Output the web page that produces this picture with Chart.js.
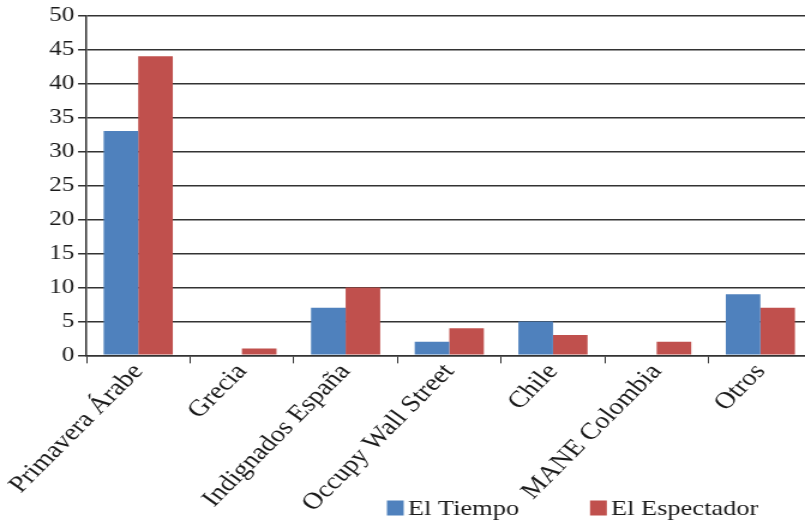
<!DOCTYPE html>
<html>
<head>
<meta charset="utf-8">
<script src="https://cdn.jsdelivr.net/npm/chart.js@4/dist/chart.umd.min.js"></script>
<style>
  html, body { margin: 0; padding: 0; background: #fff; overflow: hidden; }
  /* the original picture is stretched sideways, so the chart is too */
  #wrap { width: 677px; height: 521px; transform: scaleX(1.1997); transform-origin: 0 0; }
</style>
</head>
<body>
<div id="wrap"><canvas id="myChart"></canvas></div>
<script>
"use strict";

const categories = ['Primavera Árabe', 'Grecia', 'Indignados España',
    'Occupy Wall Street', 'Chile', 'MANE Colombia', 'Otros'];
const elTiempo = [33, 0, 7, 2, 5, 0, 9];
const elEspectador = [44, 1, 10, 4, 3, 2, 7];
const seriesNames = ['El Tiempo', 'El Espectador'];

const serif = "'Liberation Serif', 'Times New Roman', serif";
const fontSize = 21;

// legend drawn by hand, it sits beside the rotated labels like in the original
const bottomLegend = {
    id: 'bottomLegend',
    afterDraw(chart) {
        const c = chart.ctx;
        const boxX = [322.5, 491.8];
        const y = 508;
        c.save();
        c.font = '22px ' + serif;
        c.textBaseline = 'middle';
        chart.data.datasets.forEach(function (ds, i) {
            c.fillStyle = ds.backgroundColor;
            c.fillRect(boxX[i], y - 7.5, 14, 15);
            c.fillStyle = '#1a1a1a';
            c.fillText(ds.label, boxX[i] + 17.5, y + 1);
        });
        c.restore();
    }
};

function drawChart() {
    const ctx = document.getElementById('myChart').getContext('2d');
    const myChart = new Chart(ctx, {
        type: 'bar',
        data: {
            labels: categories,
            datasets: [{
                label: seriesNames[0],
                data: elTiempo,
                backgroundColor: '#4F81BD',
                borderWidth: 0
            },
            {
                label: seriesNames[1],
                data: elEspectador,
                backgroundColor: '#C0504D',
                borderWidth: 0
            }]
        },
        plugins: [bottomLegend],
        options: {
            responsive: true,
            maintainAspectRatio: false,
            animation: false,
            layout: { padding: { left: 38, right: 0, top: 6, bottom: 0 } },
            datasets: {
                bar: { categoryPercentage: 0.667, barPercentage: 1 }
            },
            plugins: {
                legend: { display: false },
                tooltip: { enabled: false }
            },
            scales: {
                x: {
                    // a bit of extra room under the labels so the axis sits at the same height
                    afterFit: function (scale) {
                        scale.height += 9;
                    },
                    grid: {
                        drawOnChartArea: false,
                        drawTicks: true,
                        tickLength: 8,
                        color: '#333'
                    },
                    border: { color: '#333', width: 1.5 },
                    ticks: {
                        autoSkip: false,
                        minRotation: 50,
                        maxRotation: 50,
                        color: '#1a1a1a',
                        font: { family: serif, size: 23.5 },
                        padding: -5
                    }
                },
                y: {
                    min: 0,
                    max: 50,
                    grid: {
                        color: '#333',
                        lineWidth: 1.5,
                        tickLength: 7
                    },
                    border: { color: '#333', width: 1.5 },
                    ticks: {
                        stepSize: 5,
                        color: '#1a1a1a',
                        font: { family: serif, size: fontSize },
                        padding: 3
                    }
                }
            }
        }
    });
}

document.fonts.load(fontSize + 'px "Liberation Serif"').then(drawChart, drawChart);
</script>
</body>
</html>
